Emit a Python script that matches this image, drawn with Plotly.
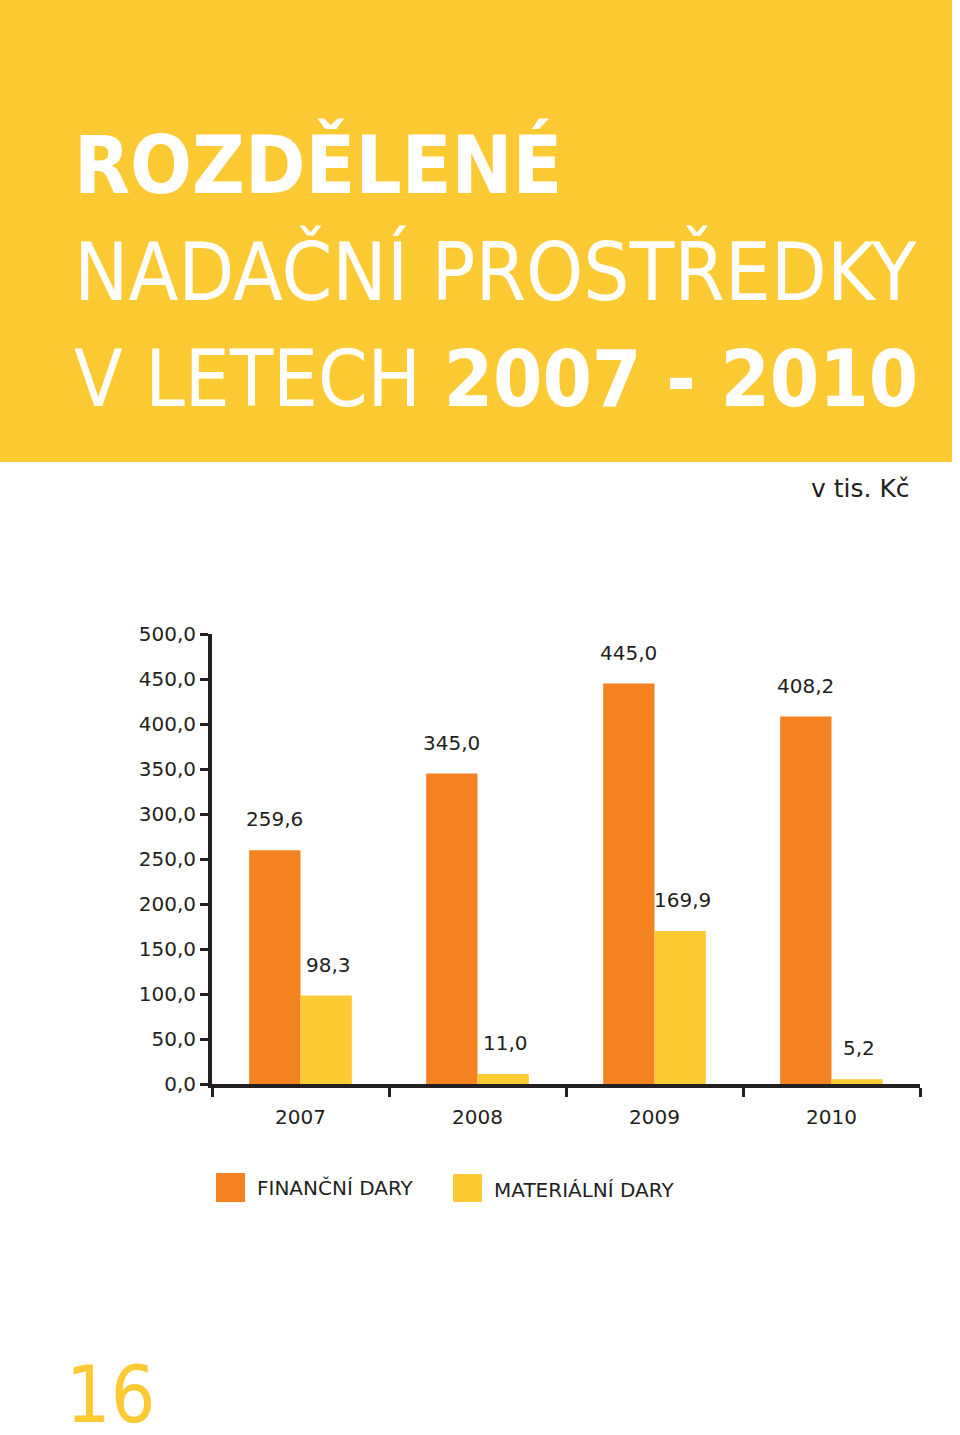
import plotly.graph_objects as go

# ---- data ----
years = ["2007", "2008", "2009", "2010"]
financni = [259.6, 345.0, 445.0, 408.2]
materialni = [98.3, 11.0, 169.9, 5.2]
series_names = ["FINANČNÍ DARY", "MATERIÁLNÍ DARY"]
unit_label = "v tis. Kč"
page_number = "16"

# ---- style ----
ORANGE = "#F58220"
YELLOW = "#FDCA33"
DARK = "#231F20"
W, H = 960, 1435
L, R, T, B = 212, 40, 634, 351  # plot area: x 212..920, y 634..1084
PW = W - L - R
PH = H - T - B
BARGAP = 0.42


def px(x):
    return (x - L) / PW


def py(y):
    return (T + PH - y) / PH


def fmt(v):
    return f"{v:.1f}".replace(".", ",")


fig = go.Figure()
fig.add_trace(go.Bar(x=years, y=financni, name=series_names[0],
                     marker=dict(color=ORANGE, line=dict(width=0))))
fig.add_trace(go.Bar(x=years, y=materialni, name=series_names[1],
                     marker=dict(color=YELLOW, line=dict(width=0))))

annotations = []
bar_w = PW / len(years) * (1 - BARGAP) / 2
for vals, sh in ((financni, -bar_w / 2), (materialni, bar_w / 2 + 2)):
    for i, v in enumerate(vals):
        annotations.append(dict(x=i, y=v, xref="x", yref="y", text=fmt(v),
                                showarrow=False, xshift=sh, yshift=31,
                                yanchor="middle", xanchor="center",
                                font=dict(family="DejaVu Sans", size=20, color=DARK)))

TITLE_FONT = "DejaVu Sans Condensed"
title_lines = [
    ("<b>ROZDĚLENÉ</b>", 165, 81),
    ("NADAČNÍ PROSTŘEDKY", 272, 81),
    ("V LETECH <b>2007 - 2010</b>", 379, 79),
]
for txt, cy, sz in title_lines:
    annotations.append(dict(x=px(73), y=py(cy), xref="paper", yref="paper",
                            text=txt, showarrow=False, xanchor="left", yanchor="middle",
                            borderpad=0,
                            font=dict(family=TITLE_FONT, size=sz, color="white")))

annotations.append(dict(x=px(912), y=py(488), xref="paper", yref="paper",
                        text=unit_label, showarrow=False, xanchor="right", yanchor="middle",
                        font=dict(family="DejaVu Sans", size=25, color=DARK)))

# legend texts
annotations.append(dict(x=px(255), y=py(1188), xref="paper", yref="paper",
                        text=series_names[0], showarrow=False, xanchor="left", yanchor="middle",
                        font=dict(family="DejaVu Sans", size=20, color=DARK)))
annotations.append(dict(x=px(492), y=py(1190), xref="paper", yref="paper",
                        text=series_names[1], showarrow=False, xanchor="left", yanchor="middle",
                        font=dict(family="DejaVu Sans", size=20, color=DARK)))

annotations.append(dict(x=px(64), y=py(1395), xref="paper", yref="paper",
                        text=page_number, showarrow=False, xanchor="left", yanchor="middle",
                        font=dict(family="DejaVu Sans Condensed", size=78, color=YELLOW)))

shapes = [
    dict(type="rect", xref="paper", yref="paper", x0=px(0), x1=px(952),
         y0=py(462), y1=py(0), fillcolor=YELLOW, line=dict(width=0), layer="below"),
    dict(type="rect", xref="paper", yref="paper", x0=px(216), x1=px(245),
         y0=py(1202), y1=py(1173), fillcolor=ORANGE, line=dict(width=0)),
    dict(type="rect", xref="paper", yref="paper", x0=px(453), x1=px(482),
         y0=py(1202), y1=py(1174), fillcolor=YELLOW, line=dict(width=0)),
]

fig.update_layout(
    width=W, height=H,
    margin=dict(l=L, r=R, t=T, b=B, pad=0),
    paper_bgcolor="white", plot_bgcolor="white",
    barmode="group", bargap=BARGAP, bargroupgap=0,
    showlegend=False,
    separators=", ",
    annotations=annotations,
    shapes=shapes,
    font=dict(family="DejaVu Sans", size=20, color=DARK),
)
fig.update_xaxes(
    type="category", range=[-0.5, len(years) - 0.5], autorange=False,
    showgrid=False, zeroline=False,
    showline=True, linewidth=4, linecolor=DARK,
    ticks="outside", tickson="boundaries", ticklen=9, tickwidth=2.5, tickcolor=DARK,
    ticklabelstandoff=12, tickangle=0,
    tickfont=dict(family="DejaVu Sans", size=20, color=DARK),
)
fig.update_yaxes(
    range=[0, 500], autorange=False, dtick=50, tick0=0, tickformat=".1f",
    showgrid=False, zeroline=False,
    showline=True, linewidth=4, linecolor=DARK,
    ticks="outside", ticklen=8, tickwidth=2.5, tickcolor=DARK,
    tickfont=dict(family="DejaVu Sans", size=20, color=DARK),
)

fig.write_html("out.html", config={"displayModeBar": False},
               post_script="document.body.style.margin='0';document.body.style.padding='0';")
